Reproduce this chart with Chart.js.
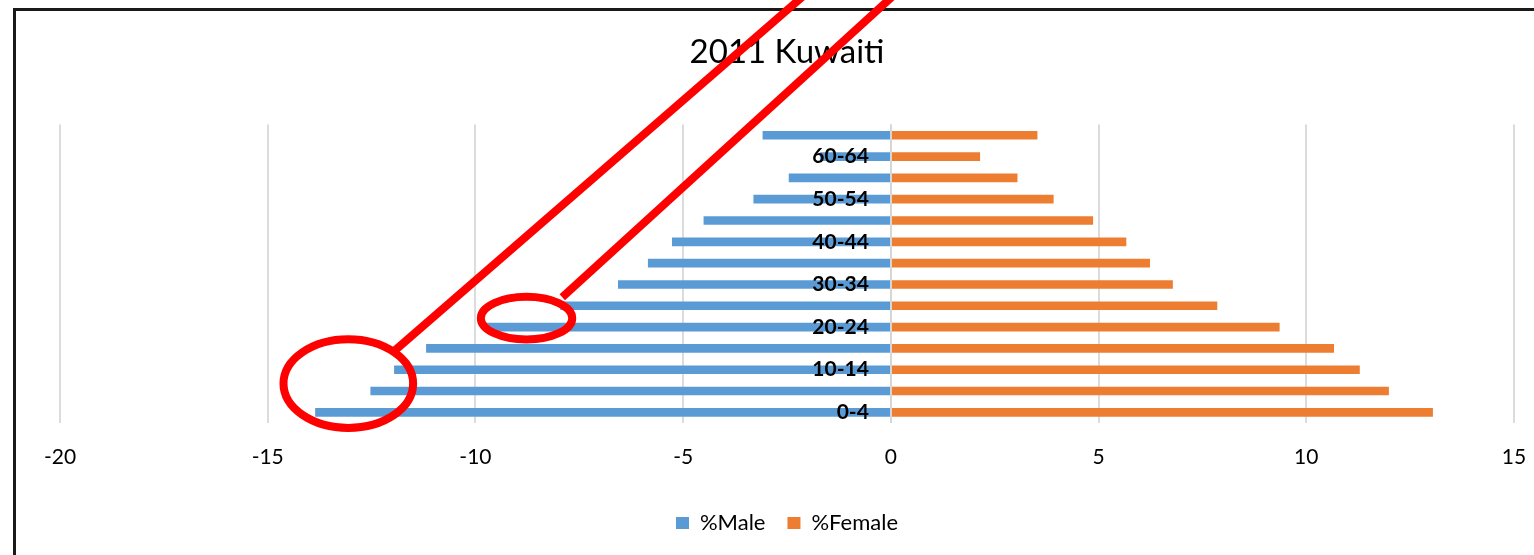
<!DOCTYPE html>
<html lang="en">
<head>
    <meta charset="UTF-8">
    <title>2011 Kuwaiti</title>
    <script src="https://cdn.jsdelivr.net/npm/chart.js"></script>
    <style>
        html, body { margin: 0; padding: 0; overflow: hidden; background: #fff; }
        #frame {
            position: absolute; left: 13px; top: 8px;
            width: 1560px; height: 620px;
            border: 3px solid #1a1a1a;
        }
        #wrap { position: absolute; left: 0; top: 0; width: 1570px; height: 555px; }
    </style>
</head>
<body>
    <div id="frame"></div>
    <div id="wrap"><canvas id="mychart"></canvas></div>

    <script>
        // age groups, bottom to top
        const ageGroups = ['0-4', '5-9', '10-14', '15-19', '20-24', '25-29', '30-34',
                           '35-39', '40-44', '45-49', '50-54', '55-59', '60-64', '65+'];
        const pctMale = [-13.85, -12.52, -11.95, -11.18, -9.75, -7.95, -6.56,
                         -5.84, -5.26, -4.5, -3.3, -2.45, -1.7, -3.08];
        const pctFemale = [13.04, 11.98, 11.28, 10.66, 9.35, 7.85, 6.78,
                           6.23, 5.66, 4.86, 3.91, 3.04, 2.14, 3.52];
        const xTicks = [-20, -15, -10, -5, 0, 5, 10, 15];

        const font = 'Lato, "Open Sans", sans-serif';

        // vertical axis line at 0, drawn over the bars like Excel does
        const zeroLine = {
            id: 'zeroLine',
            afterDatasetsDraw(chart) {
                const c = chart.ctx, a = chart.chartArea;
                const x = Math.round(chart.scales.x.getPixelForValue(0));
                c.save();
                c.strokeStyle = '#d6d6d6';
                c.lineWidth = 2;
                c.beginPath();
                c.moveTo(x, a.top);
                c.lineTo(x, a.bottom);
                c.stroke();
                c.restore();
            }
        };

        // red marks someone drew over the chart (in data units)
        const redMarks = {
            id: 'redMarks',
            afterDraw(chart) {
                const c = chart.ctx, xs = chart.scales.x, ys = chart.scales.y;
                const px = v => xs.getPixelForValue(v);
                const py = v => ys.getPixelForValue(v);
                c.save();
                c.strokeStyle = '#ff0000';
                c.lineWidth = 8;
                const ellipse = (cx, cy, rx, ry) => {
                    c.beginPath();
                    c.ellipse(px(cx), py(cy), Math.abs(px(cx + rx) - px(cx)),
                              Math.abs(py(cy + ry) - py(cy)), 0, 0, Math.PI * 2);
                    c.stroke();
                };
                const line = (x1, y1, x2, y2) => {
                    c.beginPath();
                    c.moveTo(px(x1), py(y1));
                    c.lineTo(px(x2), py(y2));
                    c.stroke();
                };
                ellipse(-13.06, 1.35, 1.56, 2.08);
                ellipse(-8.77, 4.42, 1.1, 1.0);
                line(-11.93, 2.92, -1.95, 19.8);
                line(-7.91, 5.40, 0.2, 19.8);
                c.restore();
            }
        };

        const setting = {
            type: 'bar',
            data: {
                labels: ageGroups,
                datasets: [{
                    label: '%Male',
                    data: pctMale,
                    backgroundColor: '#5B9BD5',
                    barThickness: 8
                }, {
                    label: '%Female',
                    data: pctFemale,
                    backgroundColor: '#ED7D31',
                    barThickness: 8
                }]
            },
            options: {
                indexAxis: 'y',
                responsive: true,
                maintainAspectRatio: false,
                animation: false,
                layout: { padding: { left: 60, right: 56, top: 0, bottom: 11 } },
                scales: {
                    x: {
                        stacked: true,
                        min: -20,
                        max: 15,
                        afterBuildTicks: s => { s.ticks = xTicks.map(v => ({ value: v })); },
                        afterFit: s => { s.height = 67; },
                        grid: { color: '#dcdcdc', lineWidth: 2, drawTicks: false },
                        border: { display: false },
                        ticks: { padding: 22, color: '#000', font: { family: font, size: 21 } }
                    },
                    y: {
                        stacked: true,
                        reverse: true,
                        // labels sit just left of the 0 line
                        position: { x: -0.53 },
                        grid: { display: false },
                        border: { display: false },
                        ticks: {
                            z: 2,
                            autoSkip: false,
                            color: '#000',
                            font: { family: font, size: 21, weight: 'bold' },
                            callback: (v, i) => (i % 2 === 0 ? ageGroups[i] : '')
                        }
                    }
                },
                plugins: {
                    title: {
                        display: true,
                        text: '2011 Kuwaiti',
                        color: '#000',
                        font: { family: font, size: 33, weight: 'normal' },
                        padding: { top: 33, bottom: 52 }
                    },
                    legend: {
                        position: 'bottom',
                        labels: {
                            boxWidth: 13,
                            boxHeight: 12,
                            padding: 22,
                            color: '#000',
                            font: { family: font, size: 22 }
                        }
                    },
                    tooltip: { enabled: false }
                }
            },
            plugins: [zeroLine, redMarks]
        };

        new Chart(document.getElementById('mychart'), setting);
    </script>
</body>
</html>
